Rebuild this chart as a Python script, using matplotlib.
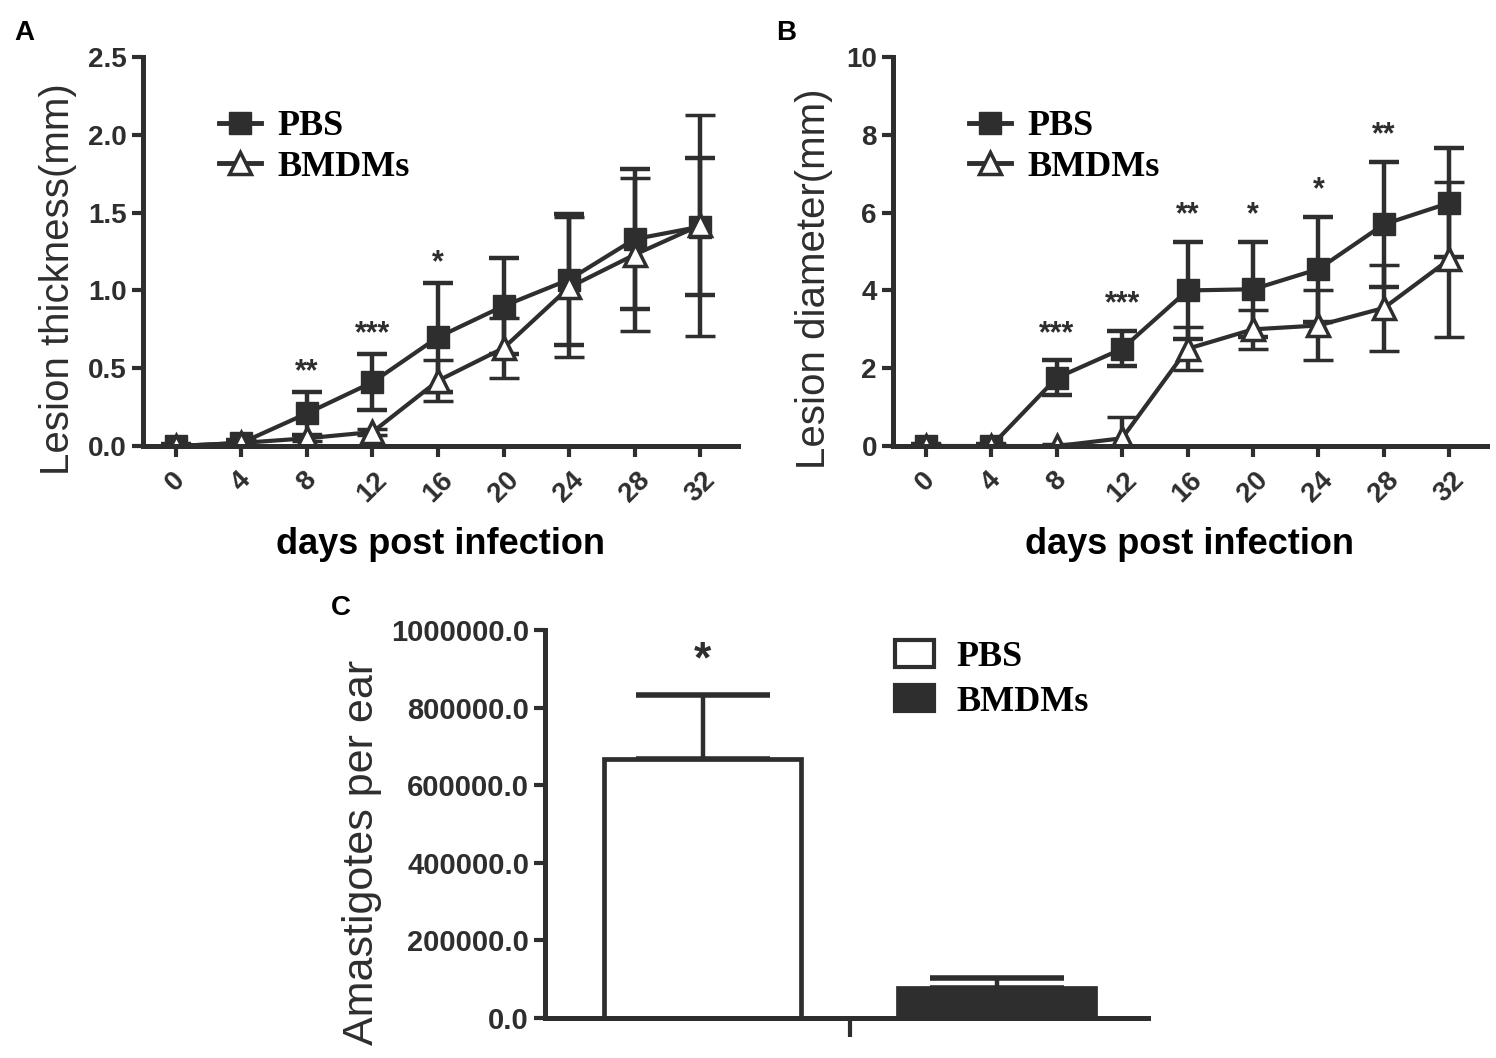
import numpy as np
import matplotlib
matplotlib.use("Agg")
import matplotlib.pyplot as plt
from matplotlib.patches import Patch
from matplotlib.lines import Line2D

# data
days = [0, 4, 8, 12, 16, 20, 24, 28, 32]

thick_pbs = [0.0, 0.02, 0.21, 0.41, 0.70, 0.90, 1.07, 1.33, 1.41]
thick_pbs_err = [0.01, 0.02, 0.14, 0.18, 0.35, 0.31, 0.42, 0.45, 0.44]
thick_bm = [0.0, 0.02, 0.05, 0.09, 0.42, 0.63, 1.02, 1.23, 1.42]
thick_bm_err = [0.01, 0.02, 0.02, 0.02, 0.13, 0.19, 0.45, 0.49, 0.71]
thick_stars = {8: "**", 12: "***", 16: "*"}

diam_pbs = [0.0, 0.0, 1.75, 2.5, 4.0, 4.03, 4.55, 5.7, 6.25]
diam_pbs_err = [0.05, 0.05, 0.45, 0.45, 1.25, 1.22, 1.35, 1.6, 1.4]
diam_bm = [0.0, 0.0, 0.0, 0.2, 2.5, 3.0, 3.1, 3.55, 4.8]
diam_bm_err = [0.05, 0.05, 0.05, 0.55, 0.55, 0.5, 0.9, 1.1, 2.0]
diam_stars = {8: "***", 12: "***", 16: "**", 20: "*", 24: "*", 28: "**"}

groups = ["PBS", "BMDMs"]
amast = [668000, 78000]
amast_err = [165000, 25000]

C = "#2e2e2e"
SANS = "Liberation Sans"
SERIF = "Liberation Serif"

fig = plt.figure(figsize=(14.96, 10.58), dpi=100)


def style_axes(ax, tsize=20):
    for s in ["top", "right"]:
        ax.spines[s].set_visible(False)
    for s in ["left", "bottom"]:
        ax.spines[s].set_linewidth(3.6)
        ax.spines[s].set_color(C)
    ax.tick_params(axis="both", colors=C, width=3, length=8, direction="out")
    for lab in ax.get_yticklabels():
        lab.set_fontfamily(SANS)
        lab.set_fontweight("bold")
        lab.set_fontsize(tsize)
        lab.set_color(C)


def line_panel(ax, pbs, pbs_err, bm, bm_err, stars, ymax, yticks, ylabel,
               star_gap, ylab_xy):
    ax.errorbar(days, pbs, yerr=pbs_err, color=C, lw=3, marker="s", ms=16,
                mfc=C, mec=C, capsize=11, capthick=3.2, elinewidth=3.2, zorder=3)
    ax.errorbar(days, bm, yerr=bm_err, color=C, lw=3, marker="^", ms=16,
                mfc="white", mec=C, mew=2.5, capsize=11, capthick=3.2,
                elinewidth=3.2, zorder=4)
    for d, s in stars.items():
        i = days.index(d)
        ax.text(d, pbs[i] + pbs_err[i] + star_gap, s, ha="center", va="bottom",
                fontsize=22, fontfamily=SANS, fontweight="bold", color=C)
    ax.set_xlim(-2, 34.3)
    ax.set_ylim(0, ymax)
    ax.set_yticks(yticks)
    ax.set_xticks(days)
    ax.set_xticklabels([str(d) for d in days], rotation=45, ha="center",
                       va="top", fontfamily=SANS, fontweight="bold",
                       fontsize=20, color=C)
    ax.tick_params(axis="x", length=11, pad=7)
    ax.set_ylabel(ylabel, fontfamily=SANS, fontsize=29, color=C)
    ax.yaxis.set_label_coords(*ylab_xy)
    ax.set_xlabel("days post infection", fontfamily=SANS, fontweight="bold",
                  fontsize=26, color="black", labelpad=14)
    style_axes(ax)
    ax.spines["bottom"].set_zorder(5)
    handles = [
        Line2D([], [], color=C, lw=3.5, marker="s", ms=16, mfc=C, mec=C),
        Line2D([], [], color=C, lw=3.5, marker="^", ms=16, mfc="white", mec=C, mew=2.5),
    ]
    ax.legend(handles, groups, loc="upper left", bbox_to_anchor=(0.098, 0.91),
              frameon=False, handlelength=1.15, handletextpad=0.45,
              labelspacing=0.2, borderpad=0,
              prop={"family": SERIF, "weight": "bold", "size": 26})


# panel A
axA = fig.add_axes([0.0956, 0.5784, 0.3977, 0.3677])
line_panel(axA, thick_pbs, thick_pbs_err, thick_bm, thick_bm_err, thick_stars,
           2.5, [0.0, 0.5, 1.0, 1.5, 2.0, 2.5], "Lesion thickness(mm)", 0.03,
           (-0.111, 0.43))
axA.set_yticklabels(["0.0", "0.5", "1.0", "1.5", "2.0", "2.5"])
style_axes(axA)

# panel B
axB = fig.add_axes([0.5969, 0.5784, 0.3971, 0.3677])
line_panel(axB, diam_pbs, diam_pbs_err, diam_bm, diam_bm_err, diam_stars,
           10, [0, 2, 4, 6, 8, 10], "Lesion diameter(mm)", 0.3,
           (-0.101, 0.43))
style_axes(axB)

# panel C
axC = fig.add_axes([0.3643, 0.0378, 0.4031, 0.3667])
xpos = np.arange(len(groups))
axC.bar(xpos, amast, width=0.67, color=["white", C], edgecolor=C, lw=3.4,
        zorder=2)
axC.errorbar(xpos, amast, yerr=[[0, 0], amast_err], fmt="none", ecolor=C,
             elinewidth=3.2, capsize=48, capthick=4, zorder=1)
axC.text(0, amast[0] + amast_err[0] + 35000, "*", ha="center", va="bottom",
         fontsize=32, fontfamily=SANS, fontweight="bold", color=C)
axC.set_xlim(-0.537, 1.514)
axC.set_ylim(0, 1000000)
axC.set_yticks([0, 200000, 400000, 600000, 800000, 1000000])
axC.set_yticklabels(["%.1f" % v for v in [0, 200000, 400000, 600000, 800000, 1000000]])
axC.set_xticks([0.5])
axC.set_xticklabels([""])
axC.set_ylabel("Amastigotes per ear", fontfamily=SANS, fontsize=31, color=C)
axC.yaxis.set_label_coords(-0.27, 0.428)
style_axes(axC, tsize=21)
axC.tick_params(axis="x", length=14)
axC.spines["bottom"].set_zorder(5)
chandles = [Patch(facecolor="white", edgecolor=C, lw=3),
            Patch(facecolor=C, edgecolor=C, lw=3)]
axC.legend(chandles, groups, loc="upper left", bbox_to_anchor=(0.55, 1.02),
           frameon=False, handlelength=1.1, handleheight=0.75,
           handletextpad=0.6, labelspacing=0.3, borderpad=0,
           prop={"family": SERIF, "weight": "bold", "size": 26})

# panel letters
fig.text(14 / 1496, 1 - 33 / 1058, "A", fontfamily=SANS, fontweight="bold",
         fontsize=20, va="center")
fig.text(776 / 1496, 1 - 33 / 1058, "B", fontfamily=SANS, fontweight="bold",
         fontsize=20, va="center")
fig.text(331 / 1496, 1 - 608 / 1058, "C", fontfamily=SANS, fontweight="bold",
         fontsize=20, va="center")

fig.savefig("out.png", dpi=100)
